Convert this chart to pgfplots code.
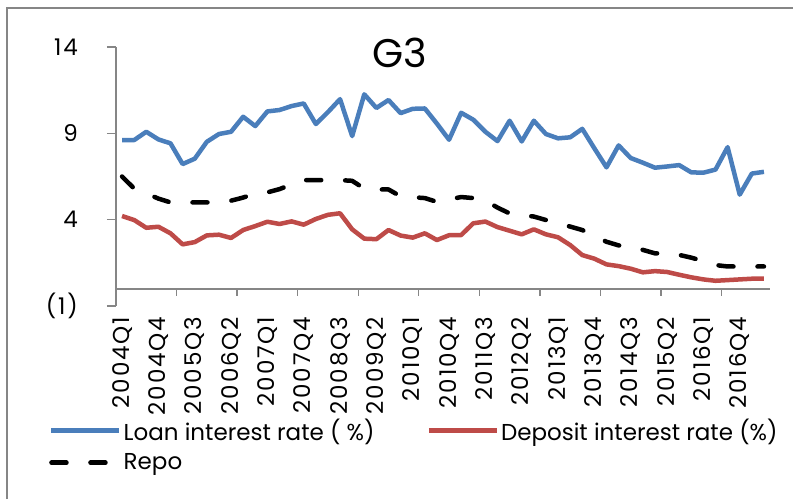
\documentclass[border=0pt]{standalone}
\usepackage{fontspec}
\setmainfont{Poppins}
\newfontfamily\tickfont{Poppins}[LetterSpace=8]
\usepackage{pgfplots}
\pgfplotsset{compat=1.18}
\definecolor{loanblue}{HTML}{4A7EBB}
\definecolor{depred}{HTML}{BE4B48}
\definecolor{axgray}{HTML}{868686}
\begin{document}
\begin{tikzpicture}
\useasboundingbox (0pt,0pt) rectangle (793pt,499pt);
\draw[axgray, line width=2pt] (7pt,0pt) -- (7pt,491pt) -- (794pt,491pt);
\begin{axis}[
  at={(116pt,193pt)}, anchor=south west,
  scale only axis, width=654pt, height=259pt,
  xmin=-0.5, xmax=53.5, ymin=-1, ymax=14,
  axis x line*=middle, axis y line*=left,
  hide obscured x ticks=false, hide obscured y ticks=false,
  axis line style={axgray, line width=1.6pt},
  every tick/.style={axgray, line width=1.4pt},
  xtick={0,3,...,51},
  xticklabels={2004Q1,2004Q4,2005Q3,2006Q2,2007Q1,2007Q4,2008Q3,2009Q2,2010Q1,2010Q4,2011Q3,2012Q2,2013Q1,2013Q4,2014Q3,2015Q2,2016Q1,2016Q4},
  xtick style={draw=none},
  xticklabel style={rotate=90, anchor=east, font=\tickfont\fontsize{23}{25}\selectfont, inner sep=0pt},
  xticklabel shift=19pt,
  extra x ticks={4.5,9.5,...,49.5},
  extra x tick labels={},
  extra x tick style={major tick length=7pt, tick align=outside, xtick style={draw=axgray}},
  ytick={-1,4,9,14},
  yticklabels={(1),4,9,14},
  tick align=outside,
  major tick length=9pt,
  yticklabel style={font=\tickfont\fontsize{23}{25}\selectfont, inner sep=0pt, anchor=east, xshift=-7pt},
  yticklabel shift=22pt,
  title={G3},
  title style={at={(axis description cs:0.434,0.955)}, anchor=center, font=\fontsize{40}{44}\selectfont},
  clip=false,
  legend columns=2,
  legend cell align=left,
  legend style={at={(axis description cs:-0.107,-0.42)}, anchor=north west, draw=none, fill=none,
    font=\fontsize{23}{25}\selectfont,
    /tikz/every even column/.append style={column sep=50pt},
    row sep=8pt},
  legend image code/.code={\draw[#1] (0pt,0pt) -- (68pt,0pt);},
]
\addplot[loanblue, line width=4.5pt, line join=round] table {
0 8.61
1 8.61
2 9.09
3 8.65
4 8.42
5 7.22
6 7.53
7 8.51
8 8.96
9 9.09
10 9.96
11 9.42
12 10.27
13 10.35
14 10.58
15 10.73
16 9.54
17 10.23
18 10.98
19 8.84
20 11.26
21 10.47
22 10.93
23 10.17
24 10.42
25 10.44
26 9.56
27 8.63
28 10.19
29 9.79
30 9.09
31 8.55
32 9.73
33 8.53
34 9.73
35 8.96
36 8.71
37 8.77
38 9.26
39 8.13
40 7.03
41 8.30
42 7.57
43 7.30
44 7.01
45 7.08
46 7.16
47 6.74
48 6.72
49 6.90
50 8.20
51 5.45
52 6.67
53 6.77
};
\addlegendentry{Loan interest rate ( \%)}
\addplot[depred, line width=4.5pt, line join=round] table {
0 4.21
1 3.98
2 3.53
3 3.59
4 3.21
5 2.57
6 2.70
7 3.09
8 3.13
9 2.94
10 3.40
11 3.63
12 3.88
13 3.75
14 3.90
15 3.71
16 4.04
17 4.28
18 4.37
19 3.44
20 2.90
21 2.87
22 3.40
23 3.08
24 2.96
25 3.21
26 2.82
27 3.10
28 3.11
29 3.79
30 3.89
31 3.57
32 3.36
33 3.15
34 3.44
35 3.15
36 2.98
37 2.53
38 1.95
39 1.74
40 1.41
41 1.31
42 1.16
43 0.95
44 1.02
45 0.97
46 0.81
47 0.66
48 0.54
49 0.46
50 0.50
51 0.54
52 0.58
53 0.58
};
\addlegendentry{Deposit interest rate (\%)}
\addplot[black, line width=4.5pt, line cap=round, line join=round, dash pattern=on 15pt off 24pt] table {
0 6.50
1 5.80
2 5.52
3 5.22
4 5.00
5 5.00
6 5.00
7 5.00
8 5.02
9 5.10
10 5.28
11 5.52
12 5.58
13 5.77
14 6.04
15 6.29
16 6.29
17 6.29
18 6.29
19 6.25
20 5.80
21 5.75
22 5.75
23 5.35
24 5.30
25 5.25
26 5.03
27 5.17
28 5.31
29 5.25
30 5.10
31 4.70
32 4.36
33 4.27
34 4.18
35 3.98
36 3.79
37 3.60
38 3.40
39 3.05
40 2.72
41 2.51
42 2.47
43 2.25
44 2.05
45 2.05
46 1.96
47 1.80
48 1.60
49 1.37
50 1.29
51 1.29
52 1.29
53 1.29
};
\addlegendentry{Repo}
\end{axis}
\end{tikzpicture}
\end{document}
